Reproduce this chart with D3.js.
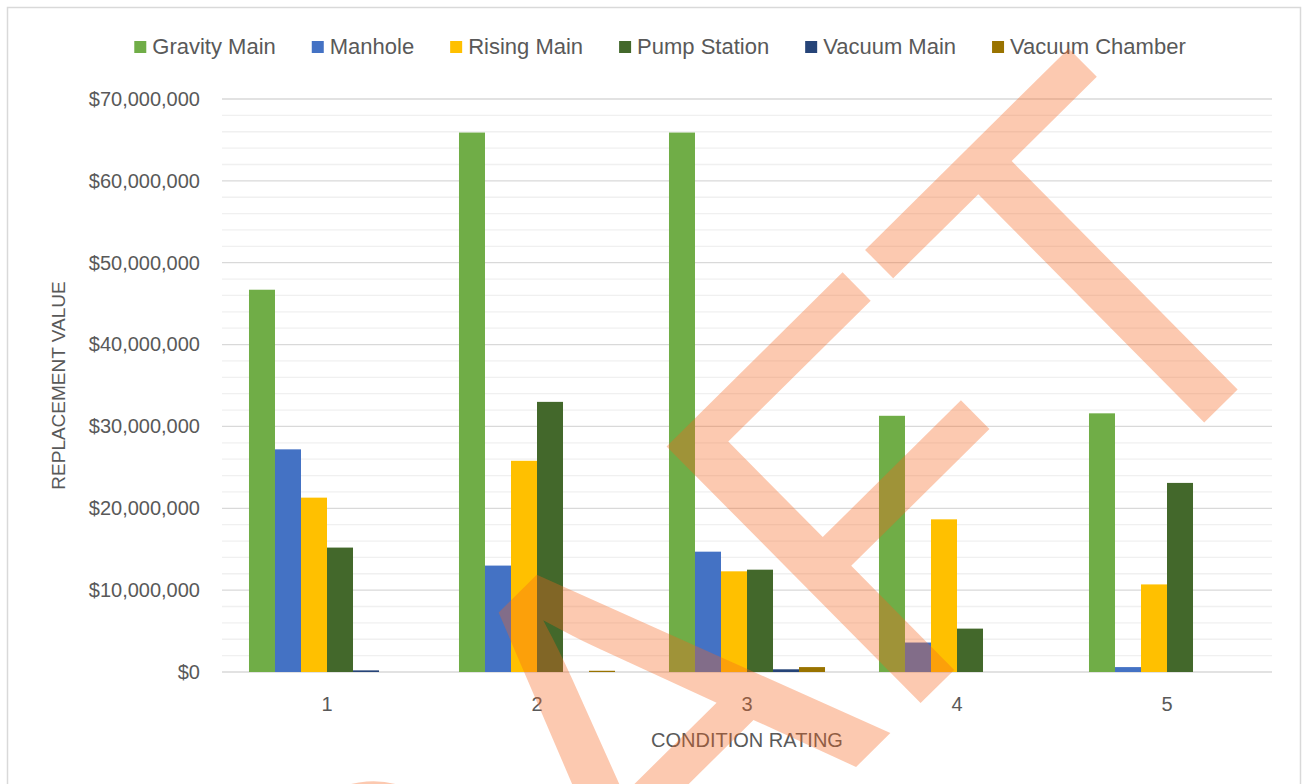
<!DOCTYPE html>
<html>
<head>
<meta charset="utf-8">
<script src="https://cdn.jsdelivr.net/npm/d3@7"></script>
<style>
  body { margin: 0; background: #fff; }
  #chart text { font-family: "Liberation Sans", Arial, sans-serif; fill: #595959; }
</style>
</head>
<body>
<div id="chart"></div>
<script>
// data
var ratings = ["1", "2", "3", "4", "5"];
var assetTypes = ["Gravity Main", "Manhole", "Rising Main", "Pump Station", "Vacuum Main", "Vacuum Chamber"];
var assetColors = ["#70AD47", "#4472C4", "#FFC000", "#43682B", "#264478", "#997300"];

var gravityMain   = [46700000, 65900000, 65900000, 31300000, 31600000];
var manhole       = [27200000, 13000000, 14700000,  3600000,   600000];
var risingMain    = [21300000, 25800000, 12300000, 18650000, 10700000];
var pumpStation   = [15200000, 33000000, 12500000,  5300000, 23100000];
var vacuumMain    = [  200000,        0,   330000,        0,        0];
var vacuumChamber = [       0,   150000,   600000,        0,        0];

var yTicks = [0, 10000000, 20000000, 30000000, 40000000, 50000000, 60000000, 70000000];
var yMinorStep = 2000000;
var yTitle = "REPLACEMENT VALUE";
var xTitle = "CONDITION RATING";
var watermark = "DRAFT";

(function (d3) {
  "use strict";

  var seriesValues = [gravityMain, manhole, risingMain, pumpStation, vacuumMain, vacuumChamber];
  var W = 1308, H = 784;
  var plot = {left: 222, right: 1272, top: 99, bottom: 672};

  var svg = d3.select("#chart").append("svg")
    .attr("width", W)
    .attr("height", H);

  // chart frame
  svg.append("rect")
    .attr("x", 7.5).attr("y", 7.5)
    .attr("width", 1293).attr("height", 820)
    .style("fill", "#fff")
    .style("stroke", "#d9d9d9")
    .style("stroke-width", 1.5);

  var x0 = d3.scaleBand()
    .domain(ratings)
    .range([plot.left, plot.right])
    .paddingInner(0.257)
    .paddingOuter(0.1285);
  var x1 = d3.scaleBand()
    .domain(assetTypes)
    .range([0, x0.bandwidth()]);
  var y = d3.scaleLinear()
    .domain([0, d3.max(yTicks)])
    .range([plot.bottom, plot.top]);
  var color = d3.scaleOrdinal().domain(assetTypes).range(assetColors);

  // gridlines: minor every 2M, major on the labelled ticks
  var minor = d3.range(0, d3.max(yTicks) + 1, yMinorStep).filter(function(v) { return yTicks.indexOf(v) < 0; });
  svg.append("g").selectAll("line")
    .data(minor).enter()
    .append("line")
    .attr("x1", plot.left).attr("x2", plot.right)
    .attr("y1", d => y(d)).attr("y2", d => y(d))
    .style("stroke", "#f0f0f0")
    .style("stroke-width", 1.3);
  svg.append("g").selectAll("line")
    .data(yTicks).enter()
    .append("line")
    .attr("x1", plot.left).attr("x2", plot.right)
    .attr("y1", d => y(d)).attr("y2", d => y(d))
    .style("stroke", "#d9d9d9")
    .style("stroke-width", 1.3);

  // bars
  var rows = ratings.map(function(r, i) {
    return {rating: r, items: assetTypes.map(function(a, j) { return {type: a, value: seriesValues[j][i]}; })};
  });
  svg.append("g").selectAll("g")
    .data(rows).enter()
    .append("g")
    .attr("transform", d => "translate(" + x0(d.rating) + ",0)")
    .selectAll("rect")
    .data(d => d.items.filter(it => it.value > 0)).enter()
    .append("rect")
    .attr("x", d => x1(d.type))
    .attr("width", x1.bandwidth())
    .attr("y", d => y(d.value))
    .attr("height", d => y(0) - y(d.value))
    .style("fill", d => color(d.type));

  // y axis
  var yAxis = svg.append("g")
    .attr("transform", "translate(" + plot.left + ",0)")
    .call(d3.axisLeft(y).tickValues(yTicks).tickFormat(d3.format("$,.0f")).tickSize(0).tickPadding(22));
  yAxis.select(".domain").remove();
  yAxis.selectAll("text").style("font-size", "20px").style("font-family", null);

  // x axis
  var xAxis = svg.append("g")
    .attr("transform", "translate(0," + plot.bottom + ")")
    .call(d3.axisBottom(x0).tickSize(0).tickPadding(25));
  xAxis.select(".domain").remove();
  xAxis.selectAll("text").style("font-size", "20px").style("font-family", null);

  // axis titles
  svg.append("text")
    .attr("transform", "translate(65," + ((plot.top + plot.bottom) / 2) + ") rotate(-90)")
    .attr("text-anchor", "middle")
    .style("font-size", "19px")
    .text(yTitle);
  svg.append("text")
    .attr("x", (plot.left + plot.right) / 2)
    .attr("y", 747)
    .attr("text-anchor", "middle")
    .style("font-size", "20px")
    .text(xTitle);

  // legend, centred on the frame
  var legend = svg.append("g").attr("class", "legend");
  var items = legend.selectAll("g")
    .data(assetTypes).enter()
    .append("g");
  items.append("rect")
    .attr("y", 41).attr("width", 12).attr("height", 12)
    .style("fill", d => color(d));
  items.append("text")
    .attr("x", 18).attr("y", 54)
    .style("font-size", "22px")
    .text(d => d);
  var widths = [];
  items.each(function() { widths.push(18 + d3.select(this).select("text").node().getComputedTextLength()); });
  var gap = 36;
  var total = d3.sum(widths) + gap * (widths.length - 1);
  var cx = 660 - total / 2;
  items.attr("transform", function(d, i) {
    var x = cx;
    cx += widths[i] + gap;
    return "translate(" + x + ",0)";
  });

  // watermark over everything
  svg.append("text")
    .attr("transform", "translate(1331,297) rotate(-44.7) scale(0.965,1)")
    .attr("text-anchor", "end")
    .style("font-family", "'Liberation Sans', Arial, sans-serif")
    .style("font-size", "525px")
    .style("fill", "rgb(245,100,30)")
    .style("fill-opacity", 0.35)
    .text(watermark);
}(d3));
</script>
</body>
</html>
